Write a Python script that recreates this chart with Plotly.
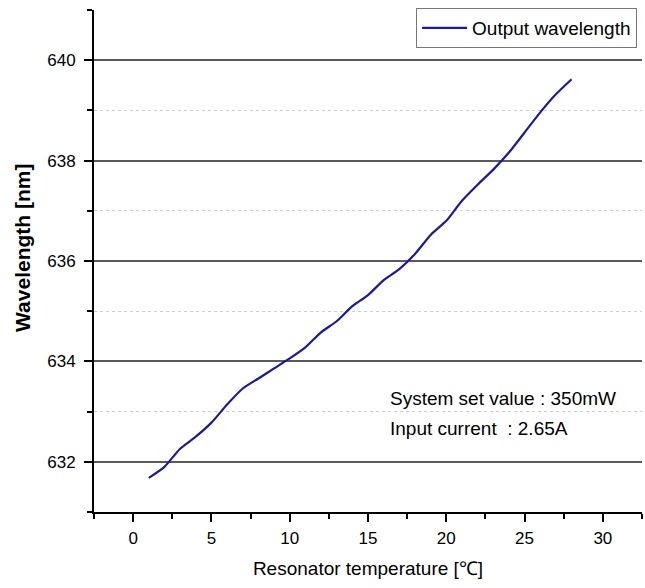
import plotly.graph_objects as go

temperature = [1, 2, 3, 4, 5, 6, 7, 8, 9, 10, 11, 12, 13, 14, 15, 16, 17, 18, 19, 20,
               21, 22, 23, 24, 25, 26, 27, 28]
wavelength = [631.68, 631.9, 632.26, 632.5, 632.78, 633.14, 633.46, 633.66, 633.86, 634.06,
              634.28, 634.58, 634.8, 635.1, 635.32, 635.62, 635.84, 636.14, 636.52, 636.8,
              637.2, 637.52, 637.82, 638.16, 638.56, 638.96, 639.32, 639.62]

series_name = "Output wavelength"
x_title = "Resonator temperature [℃]"
y_title = "<b>Wavelength [nm]</b>"
note_lines = ["System set value : 350mW", "Input current  : 2.65A"]

FONT = "Liberation Sans, Arial, sans-serif"

fig = go.Figure()
fig.add_trace(go.Scatter(
    x=temperature, y=wavelength, mode="lines", name=series_name,
    line=dict(color="#1a1aa0", width=2.2, shape="spline", smoothing=0.6),
))

fig.update_layout(
    width=645, height=588,
    margin=dict(l=94, r=3, t=10, b=76),
    paper_bgcolor="white", plot_bgcolor="white",
    font=dict(family=FONT, color="black", size=16),
    showlegend=True,
    legend=dict(
        x=0.991, y=1.004, xanchor="right", yanchor="top",
        bordercolor="#777", borderwidth=1, bgcolor="white",
        font=dict(size=19, family=FONT), itemwidth=45,
    ),
    xaxis=dict(
        range=[-2.5, 32.5], tick0=0, dtick=5,
        ticks="outside", ticklen=8, tickwidth=1.5, tickcolor="black",
        showline=True, linecolor="black", linewidth=2,
        showgrid=False, zeroline=False,
        ticklabelstandoff=2,
        tickfont=dict(size=17),
        minor=dict(tick0=2.5, dtick=5, ticks="outside", ticklen=5, tickwidth=1.5,
                   tickcolor="black", showgrid=False),
        title=dict(text=x_title, font=dict(size=19), standoff=14),
    ),
    yaxis=dict(
        range=[631, 641], tick0=632, dtick=2,
        ticks="outside", ticklen=8, tickwidth=1.5, tickcolor="black",
        showline=True, linecolor="black", linewidth=2,
        showgrid=True, gridcolor="#5a5a5a", gridwidth=1.6, zeroline=False,
        ticklabelstandoff=5,
        tickfont=dict(size=17),
        minor=dict(tick0=631, dtick=2, ticks="outside", ticklen=5, tickwidth=1.5,
                   tickcolor="black", showgrid=True, gridcolor="#cfcfcf",
                   griddash="dot", gridwidth=1),
    ),
)

fig.add_annotation(text=y_title, xref="paper", yref="paper", x=-0.1296, y=0.526,
                   xanchor="center", yanchor="middle", textangle=-90, showarrow=False,
                   font=dict(size=21, family=FONT))
fig.add_annotation(text=note_lines[0], xref="paper", yref="paper", x=0.5365, y=0.227,
                   xanchor="left", yanchor="middle", showarrow=False,
                   font=dict(size=19, family=FONT))
fig.add_annotation(text=note_lines[1], xref="paper", yref="paper", x=0.5365, y=0.167,
                   xanchor="left", yanchor="middle", showarrow=False,
                   font=dict(size=19, family=FONT))

fig.write_html("out.html")
